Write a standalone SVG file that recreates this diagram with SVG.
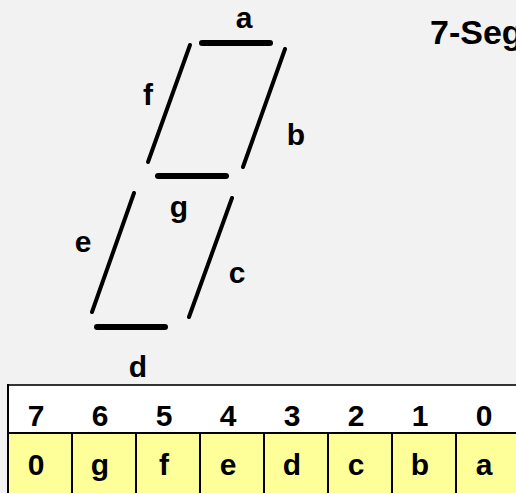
<svg xmlns="http://www.w3.org/2000/svg" width="516" height="493" viewBox="0 0 516 493">
<style>
text{font-family:"Liberation Sans",Arial,sans-serif;font-weight:bold;fill:#000;text-anchor:middle}
.lbl{font-size:30px}
.ttl{font-size:34px;text-anchor:start}
.tb{font-size:30px}
.hseg{stroke:#000;stroke-width:6;stroke-linecap:round}
.vseg{stroke:#000;stroke-width:4;stroke-linecap:round}
.hdr{fill:#fff;stroke:none}
.cell{fill:#ffff99;stroke:#000;stroke-width:2}
</style>
<rect x="0" y="0" width="516" height="493" fill="#f2f2f2"/>
<text class="ttl" x="430" y="44">7-Seg</text>
<g id="seg-a"><line class="hseg" x1="202" y1="43" x2="270" y2="43"/><text class="lbl" x="244" y="28">a</text></g>
<g id="seg-b"><line class="vseg" x1="285" y1="49" x2="243" y2="167"/><text class="lbl" x="296" y="145">b</text></g>
<g id="seg-c"><line class="vseg" x1="232" y1="198" x2="189" y2="317"/><text class="lbl" x="237" y="283">c</text></g>
<g id="seg-d"><line class="hseg" x1="97" y1="327" x2="165" y2="327"/><text class="lbl" x="138" y="377">d</text></g>
<g id="seg-e"><line class="vseg" x1="134" y1="193" x2="92" y2="312"/><text class="lbl" x="83" y="252">e</text></g>
<g id="seg-f"><line class="vseg" x1="190" y1="45" x2="148" y2="162"/><text class="lbl" x="148" y="105">f</text></g>
<g id="seg-g"><line class="hseg" x1="158" y1="176" x2="226" y2="176"/><text class="lbl" x="179" y="217">g</text></g>
<g id="table">
<rect class="hdr" x="8" y="385" width="520" height="48"/>
<line x1="7" y1="385" x2="528" y2="385" stroke="#333" stroke-width="2"/>
<line x1="8" y1="384" x2="8" y2="493" stroke="#000" stroke-width="2"/>
<rect class="cell" x="8" y="433" width="64" height="70"/>
<rect class="cell" x="72" y="433" width="64" height="70"/>
<rect class="cell" x="136" y="433" width="64" height="70"/>
<rect class="cell" x="200" y="433" width="64" height="70"/>
<rect class="cell" x="264" y="433" width="64" height="70"/>
<rect class="cell" x="328" y="433" width="64" height="70"/>
<rect class="cell" x="392" y="433" width="64" height="70"/>
<rect class="cell" x="456" y="433" width="64" height="70"/>
<text class="tb" x="36" y="426">7</text>
<text class="tb" x="100" y="426">6</text>
<text class="tb" x="164" y="426">5</text>
<text class="tb" x="228" y="426">4</text>
<text class="tb" x="292" y="426">3</text>
<text class="tb" x="356" y="426">2</text>
<text class="tb" x="420" y="426">1</text>
<text class="tb" x="484" y="426">0</text>
<text class="tb" x="36" y="475">0</text>
<text class="tb" x="100" y="475">g</text>
<text class="tb" x="164" y="475">f</text>
<text class="tb" x="228" y="475">e</text>
<text class="tb" x="292" y="475">d</text>
<text class="tb" x="356" y="475">c</text>
<text class="tb" x="420" y="475">b</text>
<text class="tb" x="484" y="475">a</text>
</g>
</svg>
